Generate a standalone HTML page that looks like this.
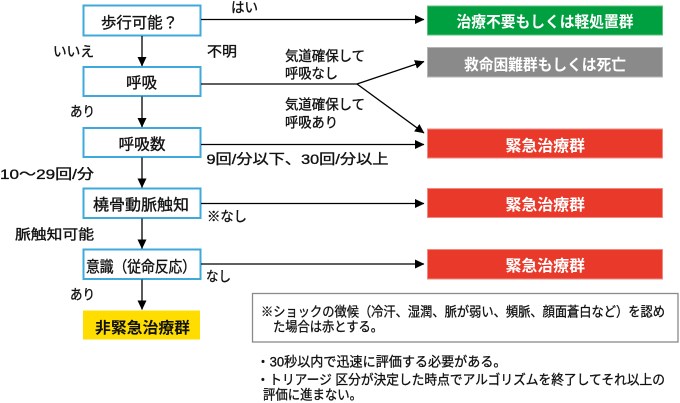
<!DOCTYPE html>
<html><head><meta charset="utf-8"><style>
html,body{margin:0;padding:0;background:#fff;}
svg{display:block;}
text{font-family:"Liberation Sans","Noto Sans CJK JP",sans-serif;}
</style></head><body>
<svg width="680" height="403" viewBox="0 0 680 403" xmlns="http://www.w3.org/2000/svg">
<defs>
<marker id="ah" markerWidth="10" markerHeight="10" refX="9" refY="5" orient="auto" markerUnits="userSpaceOnUse">
<path d="M0,0.5 L9.5,5 L0,9.5 Z" fill="#000"/>
</marker>
</defs>
<g fill="#fff" stroke="#3fa9dc" stroke-width="2">
<rect x="83.5" y="5.5" width="117" height="30"/>
<rect x="83.5" y="67" width="117" height="29"/>
<rect x="83.5" y="128" width="117" height="29"/>
<rect x="83.5" y="188.5" width="117" height="29.5"/>
<rect x="83.5" y="249.5" width="117" height="29.5"/>
</g>
<rect x="83" y="310.5" width="117" height="29" fill="#ffdd00"/>
<rect x="427.5" y="6" width="235" height="29" fill="#00a040" stroke="#5cc07c" stroke-width="1"/>
<rect x="427.5" y="47.5" width="235" height="29.5" fill="#8a8a8a" stroke="#b5b5b5" stroke-width="1"/>
<rect x="427.5" y="129" width="235" height="29" fill="#e8392a" stroke="#f08a80" stroke-width="1"/>
<rect x="427.5" y="188.5" width="235" height="29" fill="#e8392a" stroke="#f08a80" stroke-width="1"/>
<rect x="427.5" y="249.5" width="235" height="29.5" fill="#e8392a" stroke="#f08a80" stroke-width="1"/>
<rect x="252.5" y="293.5" width="425.5" height="48.5" fill="#fff" stroke="#8a8a8a" stroke-width="1.3"/>
<g stroke="#000" stroke-width="1.3" fill="none">
<line x1="142" y1="36" x2="142" y2="66" marker-end="url(#ah)"/>
<line x1="142" y1="96.5" x2="142" y2="127" marker-end="url(#ah)"/>
<line x1="142" y1="157.5" x2="142" y2="187.5" marker-end="url(#ah)"/>
<line x1="142" y1="218.5" x2="142" y2="248.5" marker-end="url(#ah)"/>
<line x1="142" y1="279.5" x2="142" y2="309.5" marker-end="url(#ah)"/>
<line x1="201" y1="19.5" x2="424" y2="19.5" marker-end="url(#ah)"/>
<line x1="201" y1="84" x2="357" y2="84"/>
<line x1="357" y1="84" x2="424" y2="61.5" marker-end="url(#ah)"/>
<line x1="357" y1="84" x2="424" y2="133" marker-end="url(#ah)"/>
<line x1="201" y1="144.5" x2="424" y2="144.5" marker-end="url(#ah)"/>
<line x1="201" y1="203.5" x2="424" y2="203.5" marker-end="url(#ah)"/>
<line x1="201" y1="264" x2="424" y2="264" marker-end="url(#ah)"/>
</g>
<g font-size="15.5" fill="#111" stroke="#111" stroke-width="0.35">
<text x="101" y="28" textLength="77" lengthAdjust="spacingAndGlyphs">歩行可能？</text>
<text x="126" y="88" textLength="31" lengthAdjust="spacingAndGlyphs">呼吸</text>
<text x="118.5" y="149.5" textLength="47" lengthAdjust="spacingAndGlyphs">呼吸数</text>
<text x="93" y="210" textLength="96" lengthAdjust="spacingAndGlyphs">橈骨動脈触知</text>
<text x="86" y="272" textLength="110" lengthAdjust="spacingAndGlyphs">意識（従命反応）</text>
</g>
<text x="95" y="333" textLength="95" lengthAdjust="spacingAndGlyphs" font-size="15.5" font-weight="bold" fill="#111">非緊急治療群</text>
<g font-size="15.5" fill="#fff" font-weight="bold">
<text x="456.5" y="27" textLength="177" lengthAdjust="spacingAndGlyphs">治療不要もしくは軽処置群</text>
<text x="464" y="70" textLength="162" lengthAdjust="spacingAndGlyphs">救命困難群もしくは死亡</text>
<text x="505.5" y="151" textLength="79.5" lengthAdjust="spacingAndGlyphs">緊急治療群</text>
<text x="505.5" y="210" textLength="79.5" lengthAdjust="spacingAndGlyphs">緊急治療群</text>
<text x="505.5" y="271" textLength="79.5" lengthAdjust="spacingAndGlyphs">緊急治療群</text>
</g>
<g font-size="14" fill="#111" stroke="#111" stroke-width="0.35">
<text x="231" y="12.5" textLength="27" lengthAdjust="spacingAndGlyphs">はい</text>
<text x="53" y="56.5" textLength="41" lengthAdjust="spacingAndGlyphs">いいえ</text>
<text x="207" y="56.5" textLength="30" lengthAdjust="spacingAndGlyphs">不明</text>
<text x="285" y="61" textLength="80" lengthAdjust="spacingAndGlyphs">気道確保して</text>
<text x="285" y="78.5" textLength="53" lengthAdjust="spacingAndGlyphs">呼吸なし</text>
<text x="285" y="109.5" textLength="80" lengthAdjust="spacingAndGlyphs">気道確保して</text>
<text x="285" y="127.5" textLength="53" lengthAdjust="spacingAndGlyphs">呼吸あり</text>
<text x="70" y="116.5" textLength="25" lengthAdjust="spacingAndGlyphs">あり</text>
<text x="206.5" y="164" textLength="182" lengthAdjust="spacingAndGlyphs">9回/分以下、30回/分以上</text>
<text x="0" y="179" textLength="94" lengthAdjust="spacingAndGlyphs">10〜29回/分</text>
<text x="207" y="221.5" textLength="40" lengthAdjust="spacingAndGlyphs">※なし</text>
<text x="15" y="239.5" textLength="79" lengthAdjust="spacingAndGlyphs">脈触知可能</text>
<text x="206" y="281.5" textLength="25" lengthAdjust="spacingAndGlyphs">なし</text>
<text x="70" y="299.5" textLength="25" lengthAdjust="spacingAndGlyphs">あり</text>
</g>
<g font-size="13.5" fill="#111" stroke="#111" stroke-width="0.3">
<text x="261" y="316.5" textLength="404" lengthAdjust="spacingAndGlyphs">※ショックの徴候（冷汗、湿潤、脈が弱い、頻脈、顔面蒼白など）を認め</text>
<text x="273" y="331.5" textLength="110" lengthAdjust="spacingAndGlyphs">た場合は赤とする。</text>
<text x="256.5" y="366.5" textLength="250" lengthAdjust="spacingAndGlyphs">・30秒以内で迅速に評価する必要がある。</text>
<text x="256.5" y="384.5" textLength="408.5" lengthAdjust="spacingAndGlyphs">・トリアージ 区分が決定した時点でアルゴリズムを終了してそれ以上の</text>
<text x="263" y="399.5" textLength="99" lengthAdjust="spacingAndGlyphs">評価に進まない。</text>
</g>
</svg>
</body></html>
